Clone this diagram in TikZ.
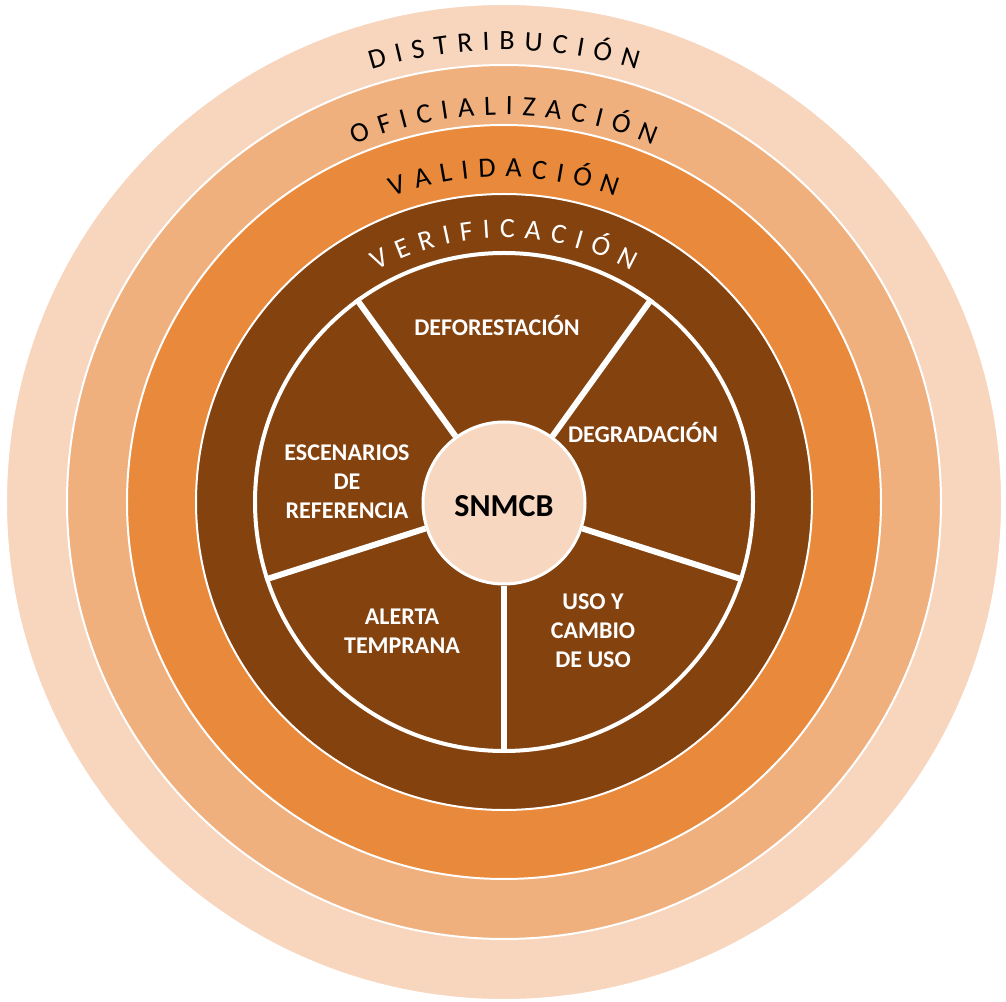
\documentclass[tikz,border=0pt]{standalone}
\usepackage{fontspec}
\setmainfont{Carlito}
\newfontfamily\ringfont[WordSpace=1.5]{Carlito}
\usetikzlibrary{decorations.text}
\definecolor{capaA}{HTML}{F8D5BD}
\definecolor{capaB}{HTML}{F0B07E}
\definecolor{capaC}{HTML}{E8893C}
\definecolor{cafe}{HTML}{84420F}
\definecolor{centro}{HTML}{F8D7C1}

\begin{document}
\begin{tikzpicture}[x=1pt, y=1pt,
  ring/.style={circle, draw=white, line width=1pt, inner sep=0pt},
  spoke/.style={draw=white, line width=3pt},
  etiqueta/.style={text=white, font=\fontsize{12}{14.5}\selectfont\bfseries, align=center},
  anillo/.style={decorate, decoration={text along path, text align=center, text color=#1}}]
\useasboundingbox (-252,-249.5) rectangle (251,251);
\node[ring, fill=capaA, minimum size=498pt] (distribucion) at (0,0) {};
\node[ring, fill=capaB, minimum size=437pt] (oficializacion) at (0,0) {};
\node[ring, fill=capaC, minimum size=377pt] (validacion) at (0,0) {};
\node[ring, fill=cafe, minimum size=308pt] (verificacion) at (0,0) {};
\node[circle, fill=cafe, draw=white, line width=2pt, minimum size=249pt, inner sep=0pt] (rueda) at (0,0) {};
\node[circle, fill=centro, draw=white, line width=1.5pt, minimum size=81pt, inner sep=0pt,
  text height=13pt, text depth=0pt, font=\fontsize{16}{16}\selectfont\bfseries] (snmcb) at (0,-0.5) {SNMCB};
\foreach \a in {54,126,198,270,342}
  \draw[spoke] (snmcb.\a) -- (rueda.\a);

\path[anillo=black, decoration={text={|\ringfont\fontsize{14}{14}\selectfont|D I S T R I B U C I Ó N}}]
  (170:226) arc[start angle=170, end angle=10, radius=226];
\path[anillo=black, decoration={text={|\ringfont\fontsize{14}{14}\selectfont|O F I C I A L I Z A C I Ó N}}]
  (170:193.5) arc[start angle=170, end angle=10, radius=193.5];
\path[anillo=black, decoration={text={|\ringfont\fontsize{14}{14}\selectfont|V A L I D A C I Ó N}}]
  (170:162.5) arc[start angle=170, end angle=10, radius=162.5];
\path[anillo=white, decoration={text={|\ringfont\fontsize{14}{14}\selectfont|V E R I F I C A C I Ó N}}]
  (170:132) arc[start angle=170, end angle=10, radius=132];

\node[etiqueta, anchor=base] (deforestacion) at (-3.5,83.2) {DEFORESTACIÓN};
\node[etiqueta, anchor=base] (degradacion) at (69.5,29.8) {DEGRADACIÓN};
\node[etiqueta] (escenarios) at (-78.5,10.3) {ESCENARIOS\\DE\\REFERENCIA};
\node[etiqueta] (alerta) at (-51,-64.6) {ALERTA\\TEMPRANA};
\node[etiqueta] (uso) at (44.5,-64.3) {USO Y\\CAMBIO\\DE USO};
\end{tikzpicture}
\end{document}
